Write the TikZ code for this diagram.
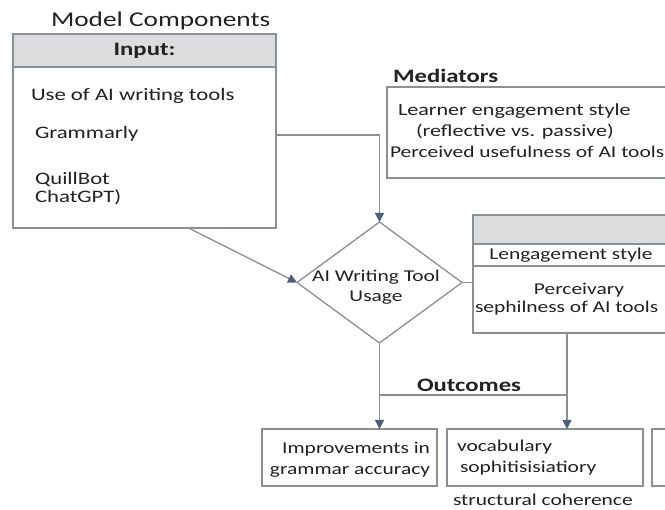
\documentclass[tikz,border=0pt]{standalone}
\usepackage{fontspec}
\setmainfont{Carlito}[FakeStretch=1.3]
\usepackage{tikz}
\usetikzlibrary{arrows.meta, positioning, shapes.geometric}
\definecolor{FrameGray}{RGB}{138,144,150}
\definecolor{HeadGray}{RGB}{218,220,222}
\definecolor{TipSlate}{RGB}{72,96,122}
\definecolor{InkGray}{RGB}{34,34,34}

\begin{document}
\begin{tikzpicture}[x=1pt, y=-1pt,
    every node/.style={font=\fontsize{16.5}{20}\selectfont, text=InkGray, inner sep=0pt, outer sep=0pt},
    panel/.style={draw=FrameGray, line width=1.3pt, rectangle, anchor=north west},
    headbar/.style={panel, fill=HeadGray, font=\fontsize{19}{22}\selectfont\bfseries},
    heading/.style={font=\fontsize{19}{22}\selectfont\bfseries, anchor=base west},
    txt/.style={anchor=base west},
    bigtxt/.style={txt, font=\fontsize{17.5}{20}\selectfont},
    link/.style={draw=FrameGray, line width=1.3pt},
    flow/.style={link, -{Triangle[length=9pt, width=9pt, color=TipSlate]}}]
    \clip (0,0) rectangle (665,510);
    \fill[white] (0,0) rectangle (665,510);

    % input panel
    \node[font=\fontsize{21}{24}\selectfont, anchor=base west] (title) at (51,27) {Model Components};
    \node[panel, minimum width=263pt, minimum height=194pt] (input) at (13,34) {};
    \node[headbar, minimum width=263pt, minimum height=33pt] (inputhead) at (13,34) {Input:};
    \node[bigtxt] (usetools) at (31,101) {Use of AI writing tools};
    \node[bigtxt] (grammarly) at (35,139) {Grammarly};
    \node[bigtxt] (quillbot) at (35,185) {QuillBot};
    \node[bigtxt] (chatgpt) at (35,203) {ChatGPT)};

    % mediators
    \node[heading] (medlabel) at (393,83) {Mediators};
    \node[panel, minimum width=320pt, minimum height=91pt] (mediators) at (387,87) {};
    \node[txt, font=\fontsize{17}{20}\selectfont] (engage) at (398,116) {Learner engagement style};
    \node[txt, font=\fontsize{17}{20}\selectfont] (reflect) at (416,137) {(reflective vs. passive)};
    \node[txt] (useful) at (390,158) {Perceived usefulness of AI tools};

    % centre decision
    \node[draw=FrameGray, line width=1.3pt, diamond, minimum width=165pt, minimum height=121pt] (usage) at (379.5,282.5) {};
    \node[align=center] (usagetext) at (376,287) {AI Writing Tool\\Usage};

    % second panel
    \node[headbar, minimum width=230pt, minimum height=29pt] (perchead) at (473,215) {};
    \node[panel, minimum width=230pt, minimum height=22pt] (percrow) at (perchead.south west) {};
    \node[panel, minimum width=230pt, minimum height=67pt] (percbody) at (percrow.south west) {};
    \node[anchor=base] (lengage) at (571,260) {Lengagement style};
    \node[anchor=base] (perceivary) at (579,295) {Perceivary};
    \node[txt] (sephil) at (475,313) {sephilness of AI tools};

    % outcomes
    \node[heading] (outlabel) at (417,392) {Outcomes};
    \node[panel, minimum width=175pt, minimum height=57pt] (outgrammar) at (262,429) {};
    \node[panel, minimum width=196pt, minimum height=57pt] (outvocab) at (447,429) {};
    \node[panel, minimum width=60pt, minimum height=57pt] (outnext) at (652,429) {};
    \node[anchor=base east] (improve) at (430,454) {Improvements in};
    \node[anchor=base east] (accuracy) at (430,475) {grammar accuracy};
    \node[txt] (vocab) at (457,452) {vocabulary};
    \node[txt] (sophis) at (460,473) {sophitisisiatiory};
    \node[txt] (structural) at (453,506) {structural coherence};

    \coordinate (joinL) at (379.5,395);
    \coordinate (joinR) at (567,395);

    \draw[flow] ([yshift=-4pt]input.east) -| (usage.north);
    \draw[flow] ([xshift=44pt]input.south) -- (usage.west);
    \draw[link] (usage.east) -- (usage.east -| percbody.west);
    \draw[flow] (usage.south) -- (usage.south |- outgrammar.north);
    \draw[link] (joinL) -- (joinR);
    \draw[flow] (joinR |- percbody.south) -- (joinR |- outvocab.north);
\end{tikzpicture}
\end{document}
